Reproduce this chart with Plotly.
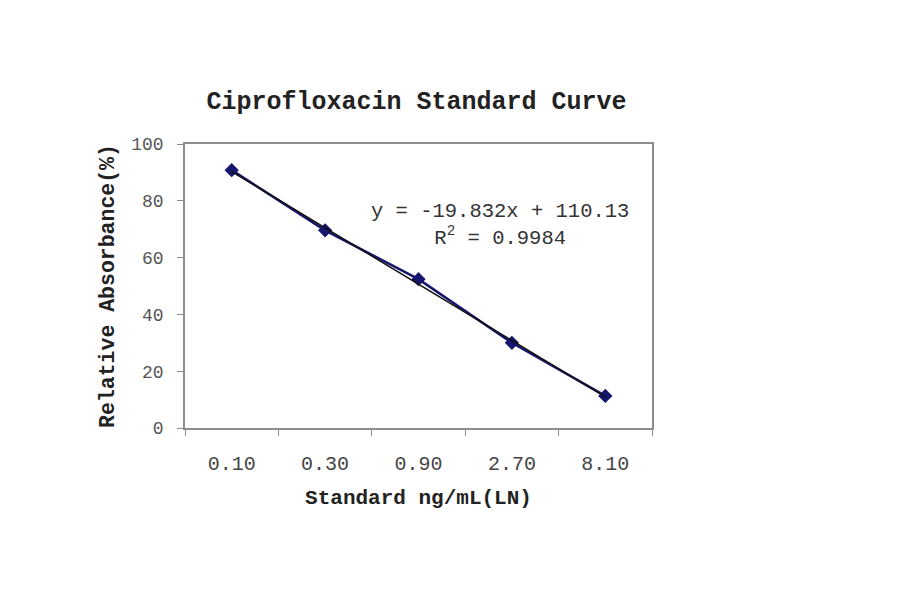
import plotly.graph_objects as go

# standard concentrations (ng/mL) and measured relative absorbance (%)
concentrations = ["0.10", "0.30", "0.90", "2.70", "8.10"]
absorbance = [90.8, 69.6, 52.4, 30.0, 11.3]

# linear trendline reported on the chart
slope = -19.832
intercept = 110.13
r_squared = 0.9984

y_ticks = [0, 20, 40, 60, 80, 100]

mono = "Liberation Mono"
axis_grey = "#8c8c8c"

# trendline uses category index 1..5
trend_x = [concentrations[0], concentrations[-1]]
trend_y = [slope * 1 + intercept, slope * len(concentrations) + intercept]

fig = go.Figure()

fig.add_trace(go.Scatter(
    x=concentrations, y=absorbance,
    mode="lines+markers",
    line=dict(color="#16166e", width=2.5),
    marker=dict(symbol="diamond", size=11, color="#16166e"),
    showlegend=False,
))

fig.add_trace(go.Scatter(
    x=trend_x, y=trend_y,
    mode="lines",
    line=dict(color="#111111", width=1.5),
    showlegend=False,
))

fig.add_annotation(
    xref="paper", yref="y", x=0.675, y=71.5,
    xanchor="center", yanchor="middle",
    text=f"y = {slope}x + {intercept}<br>R<sup>2</sup> = {r_squared}",
    showarrow=False, align="center",
    font=dict(family=mono, size=20.5, color="#333333"),
)

fig.update_layout(
    width=900, height=594,
    margin=dict(l=177, r=256, t=136, b=174),
    paper_bgcolor="white", plot_bgcolor="white",
    title=dict(
        text="<b>Ciprofloxacin Standard Curve</b>",
        x=0.454, xanchor="center", y=0.845, yanchor="middle",
        font=dict(family=mono, size=25, color="#222222"),
    ),
)

fig.update_xaxes(
    type="category", range=[-0.5, 4.5],
    tickson="boundaries", ticks="outside", ticklen=6, tickcolor=axis_grey,
    ticklabelstandoff=16,
    showline=True, linecolor=axis_grey, linewidth=1.5, mirror=True,
    showgrid=False,
    tickfont=dict(family=mono, size=20, color="#444444"),
    title=dict(text="<b>Standard ng/mL(LN)</b>", standoff=15,
               font=dict(family=mono, size=21, color="#222222")),
)

fig.update_yaxes(
    range=[0, 100], tickvals=y_ticks,
    ticks="outside", ticklen=6, tickcolor=axis_grey,
    ticklabelstandoff=10,
    showline=True, linecolor=axis_grey, linewidth=1.5, mirror=True,
    showgrid=False, zeroline=False,
    tickfont=dict(family=mono, size=18, color="#555555"),
    title=dict(text="<b>Relative Absorbance(%)</b>", standoff=11,
               font=dict(family=mono, size=21.5, color="#222222")),
)

fig.write_html("out.html")
